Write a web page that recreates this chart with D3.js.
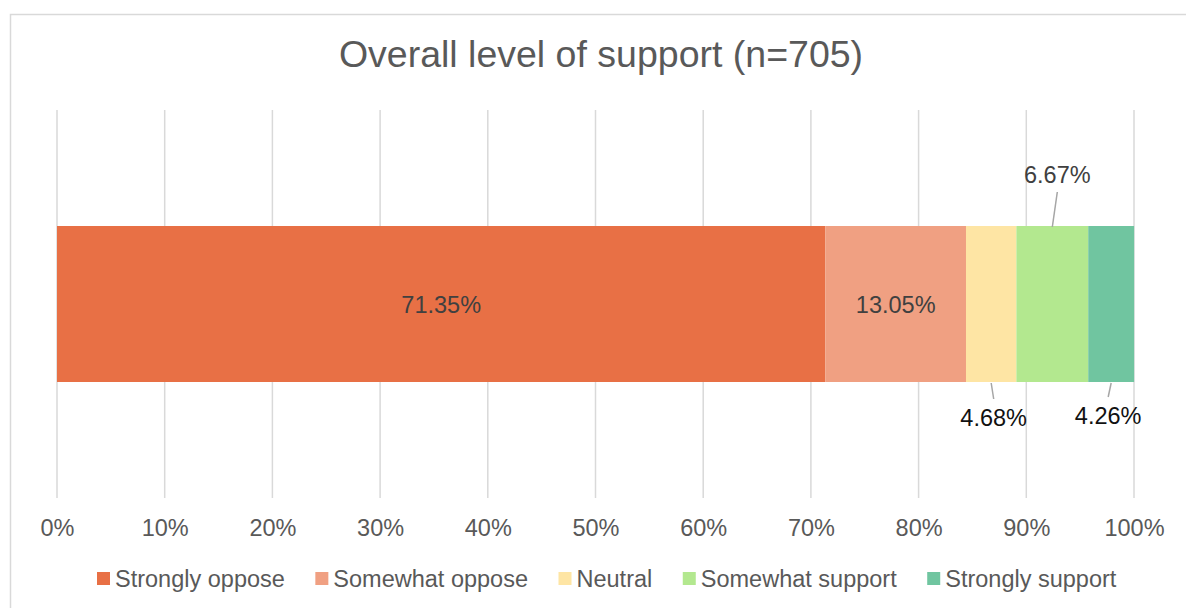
<!DOCTYPE html>
<html>
<head>
<meta charset="utf-8">
<script src="https://cdn.jsdelivr.net/npm/d3@7"></script>
<style>
  html, body { margin: 0; padding: 0; background: #ffffff; }
  svg { display: block; font-family: "Liberation Sans", Arial, sans-serif; }
</style>
</head>
<body>
<svg id="chart" width="1186" height="608"></svg>
<script>
// Survey responses, share of respondents (%)
const categories = ["Strongly oppose", "Somewhat oppose", "Neutral", "Somewhat support", "Strongly support"];
const shares = [71.35, 13.05, 4.68, 6.67, 4.26];
const colors = ["#E87045", "#F0A082", "#FEE5A4", "#B3E88F", "#70C5A0"];
const tickValues = [0, 10, 20, 30, 40, 50, 60, 70, 80, 90, 100];
const rowLabel = ["Overall"];
const titleText = "Overall level of support (n=705)";

// Label placement: inside the bar, or outside with a short leader line
const labelPlacement = [
  { mode: "inside" },
  { mode: "inside" },
  { mode: "below", dx: 2.5, lineTop: 383, lineBottom: 399, y: 426 },
  { mode: "above", dx: 5, lineTop: 192, lineBottom: 227, y: 183 },
  { mode: "below", dx: -3, lineTop: 383, lineBottom: 397, y: 424 }
];

const svg = d3.select("#chart");

// chart frame
svg.append("rect")
  .attr("x", 10.5).attr("y", 14.5)
  .attr("width", 1200).attr("height", 620)
  .attr("fill", "#ffffff")
  .attr("stroke", "#d9d9d9").attr("stroke-width", 1.5);

const x = d3.scaleLinear().domain([0, 100]).range([57, 1134]);
const y = d3.scaleBand().domain(rowLabel).range([110, 498]).padding(0.4265);

// vertical gridlines
svg.append("g").selectAll("line")
  .data(tickValues)
  .join("line")
  .attr("x1", d => x(d)).attr("x2", d => x(d))
  .attr("y1", 110).attr("y2", 498)
  .attr("stroke", "#d9d9d9").attr("stroke-width", 1.5);

// tick labels
const axis = d3.axisBottom(x).tickValues(tickValues).tickFormat(d => d + "%").tickSize(0).tickPadding(0);
const axisG = svg.append("g").attr("transform", "translate(0,536)").call(axis);
axisG.select(".domain").remove();
axisG.selectAll("text")
  .attr("y", 0).attr("dy", 0)
  .attr("fill", "#595959")
  .style("font-size", "23.5px")
  .style("font-family", "'Liberation Sans', Arial, sans-serif");

// stacked segments
const starts = [];
shares.reduce((acc, v, i) => { starts[i] = acc; return acc + v; }, 0);
const segs = shares.map((v, i) => ({ name: categories[i], value: v, start: starts[i], color: colors[i], place: labelPlacement[i] }));

svg.append("g").selectAll("rect")
  .data(segs)
  .join("rect")
  .attr("x", d => x(d.start))
  .attr("width", d => x(d.start + d.value) - x(d.start))
  .attr("y", y("Overall"))
  .attr("height", y.bandwidth())
  .attr("fill", d => d.color);

// value labels
const lab = svg.append("g");
const barMid = y("Overall") + y.bandwidth() / 2;
segs.forEach(d => {
  const cx = x(d.start + d.value / 2);
  const txt = d.value.toFixed(2) + "%";
  if (d.place.mode === "inside") {
    lab.append("text")
      .attr("x", cx).attr("y", barMid + 8.5)
      .attr("text-anchor", "middle")
      .attr("fill", "#404040")
      .style("font-size", "23.5px")
      .text(txt);
  } else {
    const p = d.place;
    const lineX1 = p.mode === "above" ? cx + p.dx : cx;
    const lineX2 = p.mode === "above" ? cx : cx + p.dx;
    lab.append("line")
      .attr("x1", lineX1).attr("y1", p.lineTop)
      .attr("x2", lineX2).attr("y2", p.lineBottom)
      .attr("stroke", "#a6a6a6").attr("stroke-width", 1.5);
    lab.append("text")
      .attr("x", cx + p.dx).attr("y", p.y)
      .attr("text-anchor", "middle")
      .attr("fill", p.mode === "above" ? "#404040" : "#111111")
      .style("font-size", "23.5px")
      .text(txt);
  }
});

// title
svg.append("text")
  .attr("x", 601).attr("y", 67)
  .attr("text-anchor", "middle")
  .attr("fill", "#595959")
  .style("font-size", "37.5px")
  .text(titleText);

// legend
const legend = svg.append("g");
const items = legend.selectAll("g")
  .data(categories)
  .join("g");
items.append("rect")
  .attr("width", 13).attr("height", 13)
  .attr("y", 572)
  .attr("fill", (d, i) => colors[i]);
items.append("text")
  .attr("x", 18).attr("y", 587)
  .attr("fill", "#595959")
  .style("font-size", "23.5px")
  .text(d => d);
const widths = [];
items.each(function() {
  const w = d3.select(this).select("text").node().getComputedTextLength();
  widths.push(18 + w);
});
const gap = 30.5;
let cursor = 97;
items.attr("transform", (d, i) => {
  const t = `translate(${cursor},0)`;
  cursor += widths[i] + gap;
  return t;
});
</script>
</body>
</html>
